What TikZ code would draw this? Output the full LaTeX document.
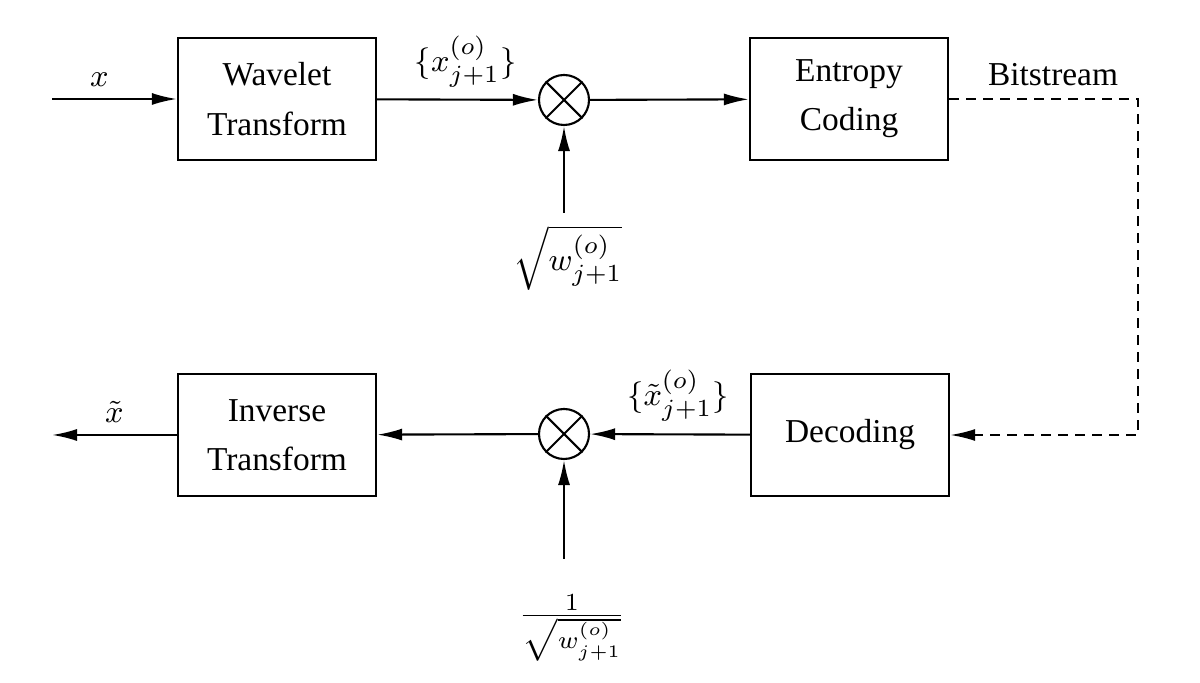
\documentclass[tikz,border=0pt]{standalone}
\usepackage[no-math]{fontspec}
\setmainfont{Liberation Serif}
\usetikzlibrary{arrows.meta,calc,positioning}

\tikzset{
    >={Latex[length=0.25cm,width=0.12cm]},
    every node/.style={font=\fontsize{9.5}{14}\selectfont},
    block/.style={draw, minimum width=1.98cm, minimum height=1.22cm, align=center},
    mult/.style={draw, circle, minimum size=0.5cm, inner sep=0pt},
    link/.style={->, line width=0.6pt},
    bitlink/.style={->, line width=0.6pt, dash pattern=on 0.1cm off 0.07cm}
}

\begin{document}
\begin{tikzpicture}[x=0.01cm, y=-0.01cm, line width=0.6pt]
    \useasboundingbox (0,0) rectangle (1200,683);

    % draw blocks
    \node[block] (wavelet) at (277,99) {Wavelet\\Transform};
    \node[block] (entropy) at (849,99) {Entropy\\Coding};
    \node[block] (decoding) at (850,435) {Decoding};
    \node[block] (inverse) at (277,435) {Inverse\\Transform};

    % draw multipliers
    \node[mult] (mulup) at (564,100) {};
    \node[mult] (muldown) at (564,434) {};
    \foreach \m in {mulup,muldown}
    {
        \draw (\m.north west) -- (\m.south east);
        \draw (\m.north east) -- (\m.south west);
    }

    % draw weights
    \node (wup) at (568,258) {$\sqrt{w^{(o)}_{j+1}}$};
    \node (wdown) at (572,628) {$\frac{1}{\sqrt{w^{(o)}_{j+1}}}$};

    \coordinate (xin) at (52,99);
    \coordinate (xout) at (52,435);

    % draw connections
    \draw[link] (xin) -- node[pos=0.38, above] {$x$} (wavelet);
    \draw[link] (wavelet) -- node[pos=0.55, above] {$\{x^{(o)}_{j+1}\}$} (mulup);
    \draw[link] (mulup) -- (entropy);
    \draw[bitlink] (entropy.east) -- node[pos=0.55, above] {Bitstream} ++(189,0) |- (decoding.east);
    \draw[link] (decoding) -- node[pos=0.45, above] {$\{\tilde{x}^{(o)}_{j+1}\}$} (muldown);
    \draw[link] (muldown) -- (inverse);
    \draw[link] (inverse) -- node[above] {$\tilde{x}$} (xout);
    \draw[link] (wup.north -| mulup) -- (mulup);
    \draw[link] ($(wdown.north -| muldown)+(0,-23)$) -- (muldown);

\end{tikzpicture}
\end{document}
